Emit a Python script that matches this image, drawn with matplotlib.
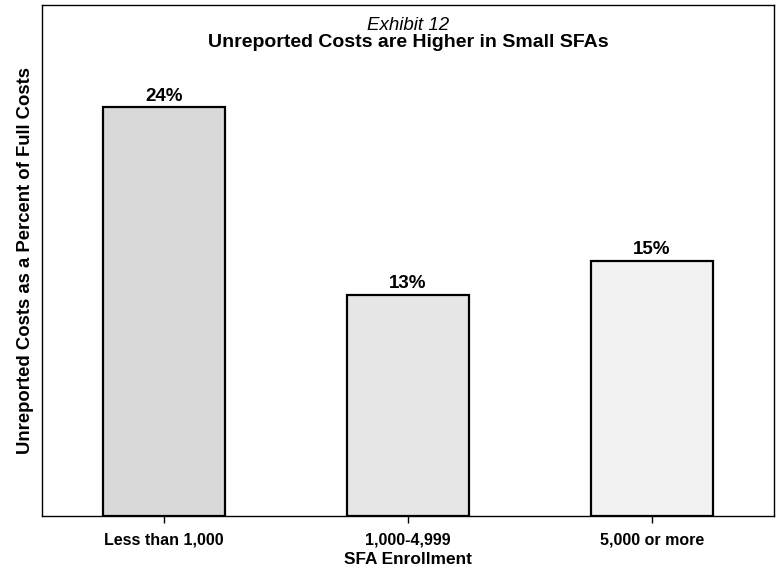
import numpy as np
import matplotlib.pyplot as plt

plt.rcParams['font.family'] = ['Liberation Sans', 'DejaVu Sans']

# enrollment groups and unreported cost share (%)
categories = ['Less than 1,000', '1,000-4,999', '5,000 or more']
values = [24, 13, 15]
value_labels = ['24%', '13%', '15%']

BAR_COLORS = ['#d9d9d9', '#e6e6e6', '#f2f2f2']

fig = plt.figure(figsize=(7.8, 5.71), dpi=100)
ax = fig.add_axes([0.054, 0.096, 0.938, 0.895])

x = np.arange(len(categories))
bars = ax.bar(x, values, width=0.5, color=BAR_COLORS, edgecolor='black', linewidth=1.6)

for rect, lab in zip(bars, value_labels):
    ax.text(rect.get_x() + rect.get_width() / 2, rect.get_height() + 0.15, lab,
            ha='center', va='bottom', fontsize=13.5, fontweight='bold')

ax.set_xlim(-0.5, 2.5)
ax.set_ylim(0, 30)
ax.set_xticks(x)
ax.set_xticklabels(categories, fontsize=11.5, fontweight='bold')
ax.tick_params(axis='x', direction='out', length=5, width=1, pad=7)
ax.set_yticks([])
ax.set_xlabel('SFA Enrollment', fontsize=12.4, fontweight='bold', labelpad=3)
ax.set_ylabel('Unreported Costs as a Percent of Full Costs', fontsize=13.3,
              fontweight='bold', labelpad=6)

for sp in ax.spines.values():
    sp.set_linewidth(1.0)

ax.text(0.5, 0.961, 'Exhibit 12', transform=ax.transAxes, ha='center', va='center',
        fontsize=13.5, fontstyle='italic')
ax.text(0.5, 0.927, 'Unreported Costs are Higher in Small SFAs', transform=ax.transAxes,
        ha='center', va='center', fontsize=14, fontweight='bold')

fig.savefig('out.png', dpi=100)
